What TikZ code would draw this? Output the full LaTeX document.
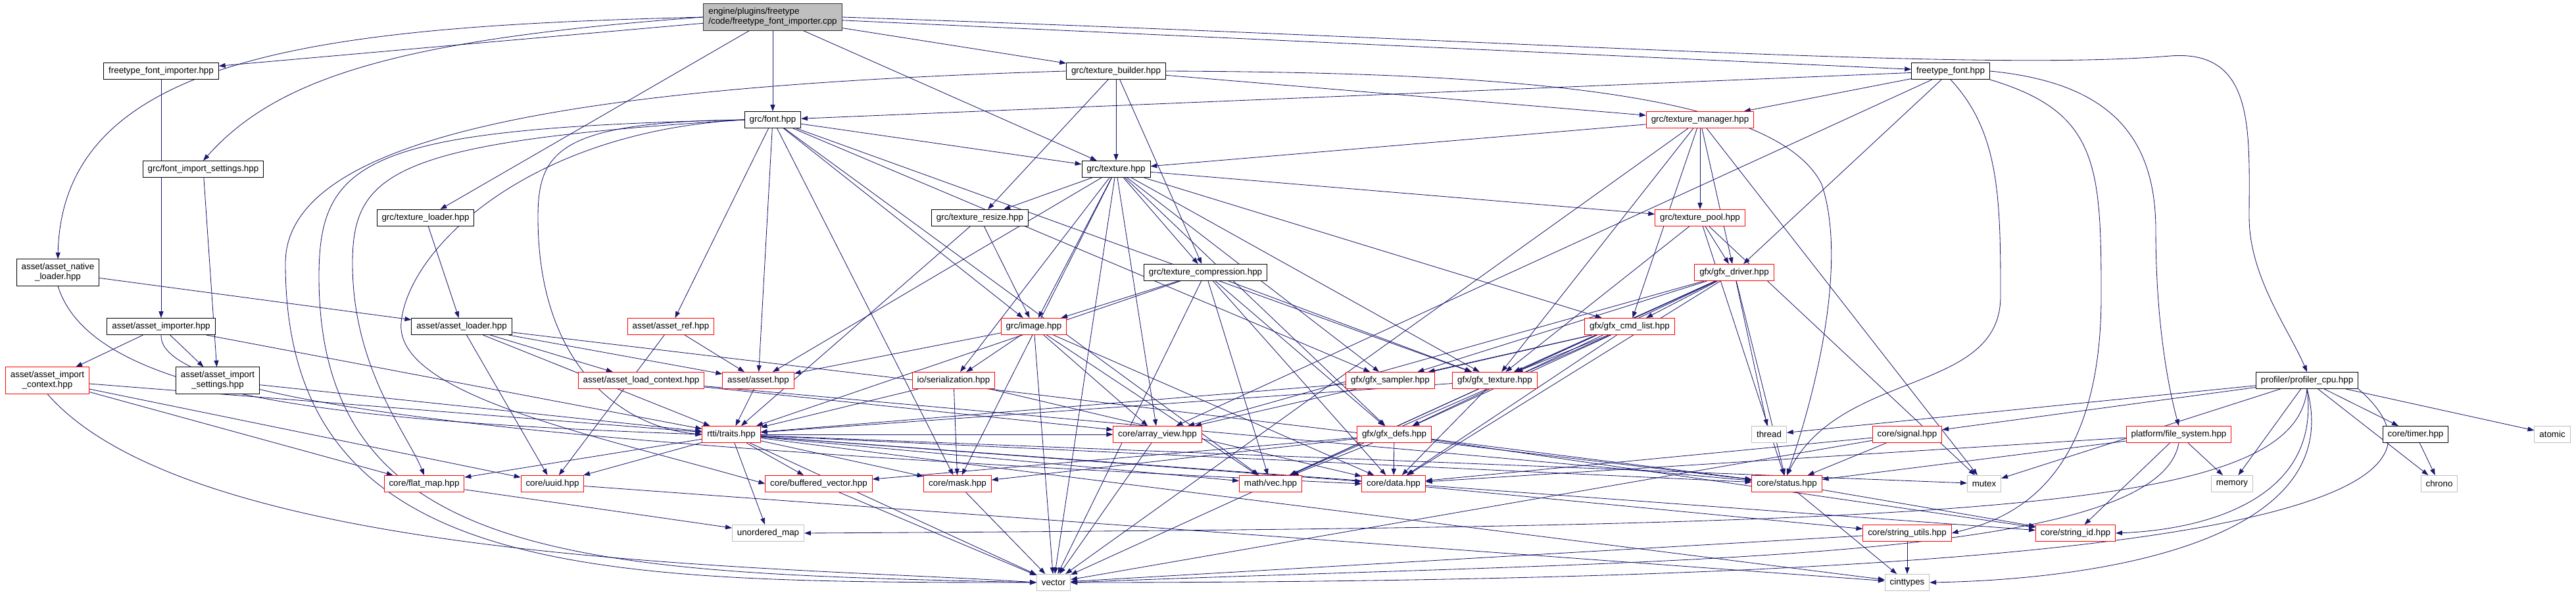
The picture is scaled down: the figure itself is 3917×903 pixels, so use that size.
\documentclass[tikz,border=0pt]{standalone}
\usepackage{fontspec}
\setmainfont{Liberation Sans}
\usetikzlibrary{arrows.meta, backgrounds}

\definecolor{edgeblue}{RGB}{25,25,112}
\definecolor{sysgray}{RGB}{191,191,191}
\definecolor{truncred}{RGB}{255,0,0}
\definecolor{maingray}{RGB}{191,191,191}

\begin{document}
\begin{tikzpicture}[
    x=0.025cm, y=0.025cm,
    font=\fontsize{9.5}{10.7}\selectfont,
    box/.style={draw=black, line width=0.7pt, fill=white, inner xsep=5.3pt,
                inner ysep=1pt, minimum height=17.8pt},
    redbox/.style={box, draw=truncred},
    sysbox/.style={box, draw=sysgray},
    twoline/.style={align=center, minimum height=28.5pt},
    mainbox/.style={box, fill=maingray, draw=black!80, align=left, minimum height=28.5pt},
    dep/.style={->, >={Stealth[inset=0pt, length=7pt, width=5pt]}, draw=edgeblue, line width=0.6pt}
]
\useasboundingbox (0,0) rectangle (3917,-903);

%--------
% ROWS 1-3: source file and its direct headers
%--------
\node[mainbox] (main) at (1175,-26) {engine/plugins/freetype\\/code/freetype\_font\_importer.cpp};

\node[box] (ftfi)   at (245,-108)  {freetype\_font\_importer.hpp};
\node[box] (tbuild) at (1697,-108) {grc/texture\_builder.hpp};
\node[box] (ftfont) at (2966,-108) {freetype\_font.hpp};

\node[box]    (font) at (1175,-182) {grc/font.hpp};
\node[redbox] (tman) at (2585,-182) {grc/texture\_manager.hpp};

%--------
% ROWS 4-6
%--------
\node[box] (fis) at (309,-257)  {grc/font\_import\_settings.hpp};
\node[box] (tex) at (1697,-257) {grc/texture.hpp};

\node[box]    (tload) at (647,-331)  {grc/texture\_loader.hpp};
\node[box]    (tres)  at (1490,-331) {grc/texture\_resize.hpp};
\node[redbox] (tpool) at (2585,-331) {grc/texture\_pool.hpp};

\node[box, twoline] (anl)   at (88,-414)   {asset/asset\_native\\\_loader.hpp};
\node[box]          (tcomp) at (1833,-414) {grc/texture\_compression.hpp};
\node[redbox]       (gdrv)  at (2637,-414) {gfx/gfx\_driver.hpp};

%--------
% ROWS 7-8: asset, image and gfx headers
%--------
\node[box]    (aimp)  at (245,-496)  {asset/asset\_importer.hpp};
\node[box]    (aload) at (702,-496)  {asset/asset\_loader.hpp};
\node[redbox] (aref)  at (1020,-496) {asset/asset\_ref.hpp};
\node[redbox] (image) at (1572,-496) {grc/image.hpp};
\node[redbox] (gcmd)  at (2478,-496) {gfx/gfx\_cmd\_list.hpp};

\node[redbox, twoline] (aictx) at (72,-578) {asset/asset\_import\\\_context.hpp};
\node[box, twoline]    (aiset) at (331,-578) {asset/asset\_import\\\_settings.hpp};
\node[redbox] (alctx)  at (975,-578)  {asset/asset\_load\_context.hpp};
\node[redbox] (asset)  at (1153,-578) {asset/asset.hpp};
\node[redbox] (serial) at (1450,-578) {io/serialization.hpp};
\node[redbox] (gsamp)  at (2114,-578) {gfx/gfx\_sampler.hpp};
\node[redbox] (gtex)   at (2273,-578) {gfx/gfx\_texture.hpp};
\node[box]    (prof)   at (3508,-578) {profiler/profiler\_cpu.hpp};

%--------
% ROWS 9-12: core headers and system headers
%--------
\node[redbox] (traits) at (1112,-660) {rtti/traits.hpp};
\node[redbox] (aview)  at (1760,-660) {core/array\_view.hpp};
\node[redbox] (gdefs)  at (2120,-660) {gfx/gfx\_defs.hpp};
\node[sysbox] (thread) at (2690,-660) {thread};
\node[redbox] (signal) at (2900,-660) {core/signal.hpp};
\node[redbox] (fsys)   at (3313,-660) {platform/file\_system.hpp};
\node[box]    (timer)  at (3673,-660) {core/timer.hpp};
\node[sysbox] (atomic) at (3881,-660) {atomic};

\node[redbox] (fmap)   at (645,-735)  {core/flat\_map.hpp};
\node[redbox] (uuid)   at (840,-735)  {core/uuid.hpp};
\node[redbox] (bvec)   at (1245,-735) {core/buffered\_vector.hpp};
\node[redbox] (mask)   at (1456,-735) {core/mask.hpp};
\node[redbox] (vec)    at (1932,-735) {math/vec.hpp};
\node[redbox] (data)   at (2119,-735) {core/data.hpp};
\node[redbox] (status) at (2717,-735) {core/status.hpp};
\node[sysbox] (mutex)  at (3017,-735) {mutex};
\node[sysbox] (memory) at (3394,-735) {memory};
\node[sysbox] (chrono) at (3709,-735) {chrono};

\node[sysbox] (umap)  at (1168,-810) {unordered\_map};
\node[redbox] (sutil) at (2900,-810) {core/string\_utils.hpp};
\node[redbox] (sid)   at (3156,-810) {core/string\_id.hpp};

\node[sysbox] (vector) at (1602,-885) {vector};
\node[sysbox] (cint)   at (2900,-885) {cinttypes};

%--------
% INCLUDE EDGES (under the boxes)
%--------
\begin{scope}[on background layer]
% source file
\draw[dep] (main) -- (ftfi);
\draw[dep] (main.west) .. controls (500,-40) and (95,-80) .. (anl.north);
\draw[dep] (main.west) .. controls (600,-60) and (420,-120) .. (fis.north);
\draw[dep] (main) -- (tload);
\draw[dep] (main) -- (font);
\draw[dep] (main) -- (tex);
\draw[dep] (main) -- (tbuild);
\draw[dep] (main) -- (ftfont);
\draw[dep] (main.east) .. controls (2300,-60) and (3000,-110) .. (3300,-85)
    .. controls (3430,-75) and (3420,-200) .. (3420,-330)
    .. controls (3420,-420) and (3480,-500) .. (prof.north);

% asset side
\draw[dep] (ftfi) -- (aimp);
\draw[dep] (fis) -- (aiset);
\draw[dep] (anl) -- (aload);
\draw[dep] (anl.south) .. controls (140,-600) and (500,-640) .. (traits.west);
\draw[dep] (tload) -- (aload);
\draw[dep] (aimp) -- (aictx);
\draw[dep] (aimp) -- (aiset);
\draw[dep] (aimp) -- (traits);
\draw[dep] (aimp.south) .. controls (240,-620) and (900,-680) .. (data.west);
\draw[dep] (aictx) -- (traits);
\draw[dep] (aictx) -- (uuid);
\draw[dep] (aictx) -- (fmap);
\draw[dep] (aictx.south) .. controls (300,-860) and (1200,-860) .. (vector.west);
\draw[dep] (aiset) -- (traits);
\draw[dep] (aload) -- (alctx);
\draw[dep] (aload) -- (asset);
\draw[dep] (aload) -- (traits);
\draw[dep] (aload) -- (uuid);
\draw[dep] (aload) -- (status);
\draw[dep] (aref) -- (asset);
\draw[dep] (aref) -- (uuid);
\draw[dep] (alctx) -- (aview);
\draw[dep] (alctx) -- (status);
\draw[dep] (asset) -- (traits);

% grc/font.hpp
\draw[dep] (font) -- (tex);
\draw[dep] (font) -- (aref);
\draw[dep] (font) -- (asset);
\draw[dep] (font) -- (image);
\draw[dep] (font) -- (mask);
\draw[dep] (font) -- (vec);
\draw[dep] (font) -- (gsamp);
\draw[dep] (font) -- (gtex);
\draw[dep] (font.west) .. controls (560,-195) and (485,-240) .. (485,-420)
    .. controls (485,-860) and (900,-870) .. (vector.west);
\draw[dep] (font.west) .. controls (600,-215) and (536,-260) .. (536,-400)
    .. controls (536,-560) and (620,-660) .. (fmap.north);
\draw[dep] (font.west) .. controls (850,-185) and (818,-230) .. (818,-330)
    .. controls (818,-560) and (950,-650) .. (traits.west);
\draw[dep] (font.west) .. controls (800,-200) and (620,-380) .. (610,-490)
    .. controls (600,-600) and (900,-660) .. (bvec.west);

% grc/texture_builder.hpp
\draw[dep] (tbuild) -- (tex);
\draw[dep] (tbuild) -- (tres);
\draw[dep] (tbuild) -- (tcomp);
\draw[dep] (tbuild) -- (tman);
\draw[dep] (tbuild.west) .. controls (900,-130) and (434,-200) .. (434,-400)
    .. controls (434,-880) and (900,-885) .. (vector.west);
\draw[dep] (tbuild.east) .. controls (2300,-110) and (2700,-140) .. (2770,-280)
    .. controls (2810,-400) and (2760,-600) .. (status.north);

% freetype_font.hpp
\draw[dep] (ftfont) -- (font);
\draw[dep] (ftfont) -- (tman);
\draw[dep] (ftfont) -- (gdrv);
\draw[dep] (ftfont) -- (aview);
\draw[dep] (ftfont.south) .. controls (3040,-200) and (3042,-300) .. (3042,-450)
    .. controls (3042,-600) and (2800,-560) .. (status.north);
\draw[dep] (ftfont.south east) .. controls (3190,-170) and (3195,-250) .. (3195,-450)
    .. controls (3195,-740) and (3050,-790) .. (sutil.east);
\draw[dep] (ftfont.east) .. controls (3200,-125) and (3278,-200) .. (3278,-350)
    .. controls (3278,-500) and (3300,-600) .. (fsys.north);

% grc/texture_manager.hpp
\draw[dep] (tman) -- (tex);
\draw[dep] (tman) -- (tpool);
\draw[dep] (tman) -- (gdrv);
\draw[dep] (tman) -- (gcmd);
\draw[dep] (tman) -- (gtex);
\draw[dep] (tman) -- (mutex);
\draw[dep] (tman) -- (vector);

% grc/texture.hpp
\draw[dep] (tex) -- (tres);
\draw[dep] (tex) -- (image);
\draw[dep] (tex) -- (serial);
\draw[dep] (tex) -- (tcomp);
\draw[dep] (tex) -- (tpool);
\draw[dep] (tex) -- (gcmd);
\draw[dep] (tex) -- (gsamp);
\draw[dep] (tex) -- (gtex);
\draw[dep] (tex) -- (gdefs);
\draw[dep] (tex) -- (asset);
\draw[dep] (tex) -- (mask);
\draw[dep] (tex) -- (aview);
\draw[dep] (tex) -- (vector);

% texture helpers
\draw[dep] (tres) -- (traits);
\draw[dep] (tres) -- (image);
\draw[dep] (tpool) -- (gdrv);
\draw[dep] (tpool) -- (gtex);
\draw[dep] (tpool) -- (mutex);
\draw[dep] (tpool) -- (status);
\draw[dep] (tcomp) -- (image);
\draw[dep] (tcomp) -- (traits);
\draw[dep] (tcomp) -- (vector);
\draw[dep] (tcomp) -- (vec);
\draw[dep] (tcomp) -- (gdefs);
\draw[dep] (tcomp) -- (data);
\draw[dep] (tcomp) -- (gtex);

% gfx
\draw[dep] (gdrv) -- (gcmd);
\draw[dep] (gdrv) -- (gsamp);
\draw[dep] (gdrv) -- (gtex);
\draw[dep] (gdrv) -- (gdefs);
\draw[dep] (gdrv) -- (data);
\draw[dep] (gdrv) -- (aview);
\draw[dep] (gdrv) -- (vec);
\draw[dep] (gdrv) -- (status);
\draw[dep] (gdrv) -- (vector);
\draw[dep] (gdrv) -- (thread);
\draw[dep] (gcmd) -- (gsamp);
\draw[dep] (gcmd) -- (gtex);
\draw[dep] (gcmd) -- (gdefs);
\draw[dep] (gcmd) -- (aview);
\draw[dep] (gcmd) -- (data);
\draw[dep] (gcmd) -- (vec);
\draw[dep] (gsamp) -- (traits);
\draw[dep] (gtex) -- (traits);
\draw[dep] (gtex) -- (data);
\draw[dep] (gdefs) -- (data);
\draw[dep] (gdefs) -- (mask);
\draw[dep] (gdefs) -- (vec);
\draw[dep] (gdefs) -- (status);
\draw[dep] (gdefs) -- (sid);
\draw[dep] (gdefs) -- (bvec);

% grc/image.hpp, io/serialization.hpp
\draw[dep] (image) -- (asset);
\draw[dep] (image) -- (serial);
\draw[dep] (image) -- (vector);
\draw[dep] (image) -- (aview);
\draw[dep] (image) -- (vec);
\draw[dep] (image) -- (data);
\draw[dep] (serial) -- (traits);
\draw[dep] (serial) -- (mask);
\draw[dep] (serial) -- (data);

% profiler
\draw[dep] (prof) -- (thread);
\draw[dep] (prof) -- (signal);
\draw[dep] (prof) -- (mutex);
\draw[dep] (prof) -- (memory);
\draw[dep] (prof) -- (timer);
\draw[dep] (prof) -- (chrono);
\draw[dep] (prof) -- (atomic);
\draw[dep] (prof.south) .. controls (3490,-780) and (3000,-800) .. (umap.east);
\draw[dep] (prof.south) .. controls (3530,-760) and (3350,-805) .. (sid.east);
\draw[dep] (prof.south) .. controls (3570,-820) and (3200,-880) .. (cint.east);
\draw[dep] (prof.south east) .. controls (3780,-760) and (3400,-885) .. (vector.east);
\draw[dep] (timer) -- (chrono);

% platform, signal
\draw[dep] (fsys) -- (memory);
\draw[dep] (fsys) -- (sid);
\draw[dep] (fsys) -- (status);
\draw[dep] (fsys) -- (data);
\draw[dep] (fsys.south) .. controls (3280,-860) and (2500,-850) .. (vector.east);
\draw[dep] (signal) -- (status);
\draw[dep] (signal) -- (data);
\draw[dep] (signal) -- (vector);

% rtti/traits.hpp
\draw[dep] (traits) -- (fmap);
\draw[dep] (traits) -- (uuid);
\draw[dep] (traits) -- (bvec);
\draw[dep] (traits) -- (umap);
\draw[dep] (traits) -- (vector);
\draw[dep] (traits) -- (mask);
\draw[dep] (traits) -- (vec);
\draw[dep] (traits) -- (data);
\draw[dep] (traits) -- (status);
\draw[dep] (traits) -- (aview);
\draw[dep] (traits) -- (sid);
\draw[dep] (traits) -- (cint);
\draw[dep] (traits) -- (mutex);

% core
\draw[dep] (fmap) -- (umap);
\draw[dep] (uuid) -- (cint);
\draw[dep] (bvec) -- (vector);
\draw[dep] (mask) -- (vector);
\draw[dep] (aview) -- (vector);
\draw[dep] (data) -- (sutil);
\draw[dep] (status) -- (sid);
\draw[dep] (status) -- (cint);
\draw[dep] (sutil) -- (cint);
\draw[dep] (sutil) -- (vector);
\end{scope}

\end{tikzpicture}
\end{document}
